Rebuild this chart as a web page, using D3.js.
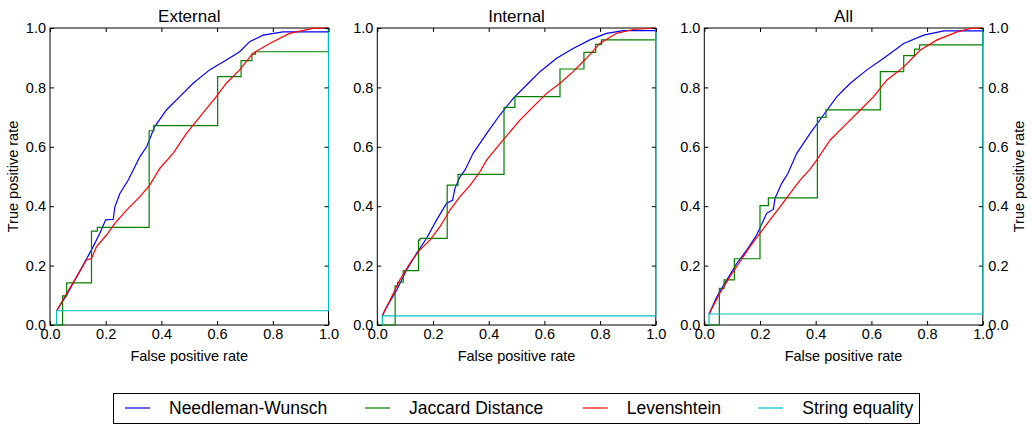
<!DOCTYPE html>
<html>
<head>
<meta charset="utf-8">
<script src="https://cdn.jsdelivr.net/npm/d3@7"></script>
<style>
  html, body { margin: 0; padding: 0; background: #fff; }
  svg text { font-family: "Liberation Sans", Arial, sans-serif; fill: #000; }
</style>
</head>
<body>
<div id="chart"></div>
<script>
// ROC curves, one [fpr, tpr] list per method and panel.

const PANEL_TITLES = ['External', 'Internal', 'All'];
const SERIES_NAMES = ['Needleman-Wunsch', 'Jaccard Distance', 'Levenshtein', 'String equality'];
const TICK_VALUES = [0, 0.2, 0.4, 0.6, 0.8, 1.0];

const externalNW = [[0.024, 0.048], [0.06, 0.101], [0.119, 0.202], [0.149, 0.253], [0.179, 0.309], [0.2, 0.354],
  [0.227, 0.356], [0.233, 0.398], [0.251, 0.443], [0.281, 0.488], [0.299, 0.522], [0.323, 0.567], [0.347, 0.6],
  [0.376, 0.668], [0.418, 0.724], [0.466, 0.769], [0.514, 0.814], [0.573, 0.859], [0.633, 0.892], [0.681, 0.92],
  [0.717, 0.954], [0.765, 0.976], [0.836, 0.987], [1.0, 0.987], [1.0, 1.0]];
const externalJaccard = [[0, 0], [0.045, 0.098], [0.06, 0.142], [0.149, 0.316], [0.17, 0.329], [0.356, 0.654],
  [0.373, 0.671], [0.602, 0.836], [0.686, 0.89], [0.725, 0.912], [0.738, 0.92], [1.0, 1.0], [1.0, 1.0]];
const externalLev = [[0.024, 0.048], [0.06, 0.107], [0.096, 0.163], [0.131, 0.219], [0.149, 0.224], [0.167, 0.264],
  [0.203, 0.303], [0.233, 0.342], [0.275, 0.387], [0.323, 0.432], [0.358, 0.471], [0.394, 0.527], [0.442, 0.578],
  [0.49, 0.645], [0.538, 0.701], [0.597, 0.769], [0.633, 0.814], [0.681, 0.859], [0.729, 0.915], [0.789, 0.948],
  [0.86, 0.982], [0.944, 0.999], [1.0, 1.0]];
const externalEq = [[0.024, 0], [0.024, 0.048], [1.0, 0.048], [1.0, 1.0]];

const internalNW = [[0.018, 0.031], [0.034, 0.062], [0.07, 0.118], [0.105, 0.185], [0.141, 0.241], [0.177, 0.292],
  [0.213, 0.354], [0.249, 0.41], [0.27, 0.42], [0.279, 0.46], [0.297, 0.499], [0.315, 0.522], [0.344, 0.578],
  [0.393, 0.645], [0.44, 0.707], [0.488, 0.763], [0.536, 0.808], [0.584, 0.853], [0.644, 0.898], [0.703, 0.931],
  [0.763, 0.96], [0.823, 0.982], [0.883, 0.991], [1.0, 0.991], [1.0, 1.0]];
const internalJaccard = [[0, 0], [0.064, 0.132], [0.073, 0.144], [0.093, 0.183], [0.148, 0.286], [0.153, 0.292],
  [0.251, 0.471], [0.29, 0.507], [0.455, 0.733], [0.494, 0.769], [0.656, 0.862], [0.742, 0.918], [0.784, 0.945],
  [0.805, 0.96], [1.0, 1.0], [1.0, 1.0]];
const internalLev = [[0.018, 0.031], [0.046, 0.084], [0.081, 0.152], [0.117, 0.208], [0.153, 0.253], [0.189, 0.286],
  [0.225, 0.331], [0.261, 0.387], [0.297, 0.432], [0.333, 0.47], [0.368, 0.515], [0.393, 0.556], [0.452, 0.623],
  [0.512, 0.69], [0.572, 0.746], [0.608, 0.78], [0.656, 0.814], [0.703, 0.853], [0.751, 0.898], [0.799, 0.948],
  [0.859, 0.982], [0.919, 0.995], [1.0, 1.0]];
const internalEq = [[0.018, 0], [0.018, 0.031], [1.0, 0.031], [1.0, 1.0]];

const allNW = [[0.017, 0.037], [0.045, 0.095], [0.081, 0.152], [0.117, 0.208], [0.153, 0.253], [0.188, 0.303],
  [0.224, 0.376], [0.248, 0.39], [0.254, 0.427], [0.278, 0.477], [0.3, 0.51], [0.332, 0.578], [0.38, 0.645],
  [0.428, 0.707], [0.476, 0.769], [0.524, 0.814], [0.584, 0.859], [0.644, 0.898], [0.716, 0.948], [0.788, 0.976],
  [0.86, 0.99], [1.0, 0.99], [1.0, 1.0]];
const allJaccard = [[0, 0], [0.054, 0.123], [0.071, 0.152], [0.108, 0.223], [0.2, 0.402], [0.23, 0.428],
  [0.406, 0.699], [0.437, 0.724], [0.632, 0.853], [0.716, 0.907], [0.755, 0.929], [0.773, 0.943], [1.0, 1.0], [1.0, 1.0]];
const allLev = [[0.017, 0.037], [0.056, 0.107], [0.092, 0.163], [0.128, 0.213], [0.164, 0.264], [0.2, 0.309],
  [0.236, 0.354], [0.272, 0.398], [0.308, 0.443], [0.344, 0.488], [0.38, 0.525], [0.404, 0.556], [0.452, 0.623],
  [0.512, 0.679], [0.56, 0.724], [0.608, 0.769], [0.656, 0.825], [0.716, 0.869], [0.776, 0.926], [0.836, 0.96],
  [0.908, 0.987], [0.956, 0.999], [1.0, 1.0]];
const allEq = [[0.017, 0], [0.017, 0.037], [1.0, 0.037], [1.0, 1.0]];

const PANEL_SERIES = [
  [externalNW, externalJaccard, externalLev, externalEq],
  [internalNW, internalJaccard, internalLev, internalEq],
  [allNW, allJaccard, allLev, allEq]
];

const COLOURS = ['#0000ff', '#008000', '#ff0000', '#00bfbf'];
const STEPPED = [false, true, false, false];

const width = 1032;
const height = 424;
const panelLefts = [50, 377.3, 704.3];
const panelWidth = 278.5;
const plotTop = 28;
const plotBottom = 325;

const svg = d3.select('#chart').append('svg').attr('width', width).attr('height', height);

const y = d3.scaleLinear().domain([0, 1]).range([plotBottom, plotTop]);

PANEL_SERIES.forEach((series, p) => {
  const x = d3.scaleLinear().domain([0, 1]).range([panelLefts[p], panelLefts[p] + panelWidth]);
  const g = svg.append('g');

  // frame first so the curves running along the right edge stay visible
  g.append('rect')
    .attr('x', panelLefts[p])
    .attr('y', plotTop)
    .attr('width', panelWidth)
    .attr('height', plotBottom - plotTop)
    .attr('fill', 'none')
    .attr('stroke', '#000')
    .attr('stroke-width', 1);

  series.forEach((points, i) => {
    g.append('path')
      .datum(points)
      .attr('fill', 'none')
      .attr('stroke', COLOURS[i])
      .attr('stroke-width', 1.2)
      .attr('d', d3.line()
        .curve(STEPPED[i] ? d3.curveStepAfter : d3.curveLinear)
        .x((d) => x(d[0]))
        .y((d) => y(d[1])));
  });

  const tickStyle = (sel) => {
    sel.select('.domain').remove();
    sel.selectAll('line').attr('stroke', '#000');
    sel.selectAll('text').style('font-size', '14.5px').attr('fill', '#000');
  };

  g.append('g')
    .attr('transform', `translate(0,${plotBottom})`)
    .call(d3.axisBottom(x).tickValues(TICK_VALUES).tickSize(-4).tickPadding(4).tickFormat(d3.format('.1f')))
    .call(tickStyle);
  g.append('g')
    .attr('transform', `translate(0,${plotTop})`)
    .call(d3.axisTop(x).tickValues(TICK_VALUES).tickSize(-4).tickFormat(''))
    .call(tickStyle);
  g.append('g')
    .attr('transform', `translate(${panelLefts[p]},0)`)
    .call(d3.axisLeft(y).tickValues(TICK_VALUES).tickSize(-4).tickPadding(4).tickFormat(d3.format('.1f')))
    .call(tickStyle);
  g.append('g')
    .attr('transform', `translate(${panelLefts[p] + panelWidth},0)`)
    .call(d3.axisRight(y).tickValues(TICK_VALUES).tickSize(-4).tickPadding(5.5)
      .tickFormat(p === 2 ? d3.format('.1f') : ''))
    .call(tickStyle);

  const cx = panelLefts[p] + panelWidth / 2;
  g.append('text')
    .attr('x', cx)
    .attr('y', 21.5)
    .attr('text-anchor', 'middle')
    .style('font-size', '17px')
    .text(PANEL_TITLES[p]);

  g.append('text')
    .attr('x', cx)
    .attr('y', 361)
    .attr('text-anchor', 'middle')
    .style('font-size', '14.5px')
    .text('False positive rate');
});

const midY = (plotTop + plotBottom) / 2;
svg.append('text')
  .attr('transform', `translate(18,${midY}) rotate(-90)`)
  .attr('text-anchor', 'middle')
  .style('font-size', '14.5px')
  .text('True positive rate');
svg.append('text')
  .attr('transform', `translate(1024,${midY}) rotate(-90)`)
  .attr('text-anchor', 'middle')
  .style('font-size', '14.5px')
  .text('True positive rate');

// legend
const legend = svg.append('g');
legend.append('rect')
  .attr('x', 113.5)
  .attr('y', 393.5)
  .attr('width', 806)
  .attr('height', 30)
  .attr('fill', '#fff')
  .attr('stroke', '#000')
  .attr('stroke-width', 1);

const legendLineX = [125, 365, 582.7, 758.3];
SERIES_NAMES.forEach((name, i) => {
  legend.append('line')
    .attr('x1', legendLineX[i])
    .attr('x2', legendLineX[i] + 25)
    .attr('y1', 408)
    .attr('y2', 408)
    .attr('stroke', COLOURS[i])
    .attr('stroke-width', 1.2);
  legend.append('text')
    .attr('x', legendLineX[i] + 44)
    .attr('y', 413.5)
    .style('font-size', '17.5px')
    .text(name);
});
</script>
</body>
</html>
